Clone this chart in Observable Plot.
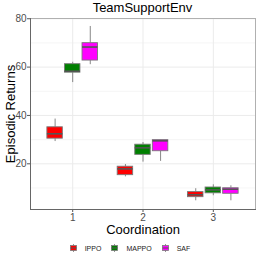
<!DOCTYPE html>
<html><head><meta charset="utf-8">
<script src="https://cdn.jsdelivr.net/npm/d3@7"></script>
<script src="https://cdn.jsdelivr.net/npm/@observablehq/plot@0.6"></script>
<style>
html,body{margin:0;padding:0;background:#fff;}
body{width:258px;height:258px;overflow:hidden;font-family:"Liberation Sans",Arial,sans-serif;}
#title{margin-left:30px;width:225px;text-align:center;font-size:13px;line-height:16px;height:16px;color:#000;}
#chart svg{display:block;}
#legend{display:flex;justify-content:center;align-items:center;height:20px;font-size:7px;color:#222;gap:10px;margin-left:2px;}
.item{display:flex;align-items:center;gap:8px;}
</style></head>
<body>
<div id="title"></div>
<div id="chart"></div>
<div id="legend"></div>
<script>
const titleText = "TeamSupportEnv";
const xLabel = "Coordination";
const yLabel = "Episodic Returns";
const coordination = [1, 2, 3];
const algorithms = ["IPPO", "MAPPO", "SAF"];
const colors = ["#ff0000", "#008000", "#ff00ff"];
const yTicks = [20, 40, 60, 80];
const yMinor = [10, 30, 50, 70];
// values ordered: coordination 1 (IPPO, MAPPO, SAF), coordination 2, coordination 3
const whiskerLow  = [29.2, 53.6, 61.0, 14.6, 20.7, 21.0, 4.7, 6.8, 4.7];
const q1          = [30.4, 57.7, 62.7, 15.3, 23.7, 25.2, 6.2, 7.8, 7.6];
const median      = [32.4, 58.3, 68.3, 17.9, 26.6, 29.5, 7.2, 9.2, 9.5];
const q3          = [35.1, 61.2, 69.9, 18.8, 27.9, 29.8, 8.3, 10.2, 9.9];
const whiskerHigh = [38.5, 62.0, 76.8, 19.7, 28.8, 29.9, 9.7, 11.3, 10.9];

// dodge layout (in category units)
const dodgeStep = 0.25, boxWidth = 0.22;
const rows = [];
coordination.forEach((c, i) => algorithms.forEach((a, j) => {
  const k = i * algorithms.length + j;
  const cx = c + (j - (algorithms.length - 1) / 2) * dodgeStep;
  rows.push({coord: c, alg: a, cx, left: cx - boxWidth / 2, right: cx + boxWidth / 2,
    lo: whiskerLow[k], q1: q1[k], med: median[k], q3: q3[k], hi: whiskerHigh[k]});
}));

document.getElementById("title").textContent = titleText;

const boxStroke = "#7a7a7a";
const chart = Plot.plot({
  width: 258, height: 222,
  marginTop: 2, marginBottom: 29, marginLeft: 30, marginRight: 3,
  style: {fontFamily: "'Liberation Sans', Arial, sans-serif", fontSize: "10px", color: "#4d4d4d", background: "#fff", overflow: "visible"},
  x: {domain: [0.4, 3.6], axis: null},
  y: {domain: [1.1, 80.1], axis: null},
  color: {domain: algorithms, range: colors},
  marks: [
    Plot.ruleY(yMinor, {stroke: "#f2f2f2", strokeWidth: 0.8}),
    Plot.ruleY(yTicks, {stroke: "#ebebeb", strokeWidth: 1}),
    Plot.ruleX(coordination, {stroke: "#ebebeb", strokeWidth: 1}),
    Plot.frame({stroke: "#b0b0b0"}),
    Plot.axisY({ticks: yTicks, tickSize: 3, tickPadding: 1, label: null, stroke: "#555", fill: "#4d4d4d", fontSize: 10}),
    Plot.axisX({ticks: coordination, tickSize: 3, tickPadding: 1, label: null, stroke: "#555", fill: "#4d4d4d", fontSize: 10, tickFormat: d3.format("d")}),
    Plot.frame({anchor: "left", stroke: "#666"}),
    Plot.frame({anchor: "bottom", stroke: "#666"}),
    Plot.ruleX(rows, {x: "cx", y1: "lo", y2: "q1", stroke: boxStroke, strokeWidth: 0.9}),
    Plot.ruleX(rows, {x: "cx", y1: "q3", y2: "hi", stroke: boxStroke, strokeWidth: 0.9}),
    Plot.rect(rows, {x1: "left", x2: "right", y1: "q1", y2: "q3", fill: "alg", stroke: boxStroke, strokeWidth: 0.9}),
    Plot.ruleY(rows, {x1: "left", x2: "right", y: "med", stroke: "#555", strokeWidth: 1.6}),
    Plot.text([{label: xLabel}], {text: "label", frameAnchor: "bottom", textAnchor: "middle", lineAnchor: "middle", dy: 20, fontSize: 13, fill: "#000"}),
    Plot.text([{label: yLabel}], {text: "label", frameAnchor: "left", textAnchor: "middle", lineAnchor: "middle", dx: -20, rotate: -90, fontSize: 13, fill: "#000"})
  ]
});
document.getElementById("chart").appendChild(chart);

const legend = d3.select("#legend");
algorithms.forEach((a, i) => {
  const item = legend.append("div").attr("class", "item");
  const s = item.append("svg").attr("width", 7).attr("height", 10);
  s.append("line").attr("x1", 3.5).attr("x2", 3.5).attr("y1", 1).attr("y2", 9).attr("stroke", boxStroke).attr("stroke-width", 0.8);
  s.append("rect").attr("x", 0.5).attr("y", 2.5).attr("width", 6).attr("height", 5).attr("fill", colors[i]).attr("stroke", boxStroke).attr("stroke-width", 0.8);
  s.append("line").attr("x1", 0.5).attr("x2", 6.5).attr("y1", 5).attr("y2", 5).attr("stroke", "#555").attr("stroke-width", 1);
  item.append("span").text(a);
});
</script>
</body></html>
